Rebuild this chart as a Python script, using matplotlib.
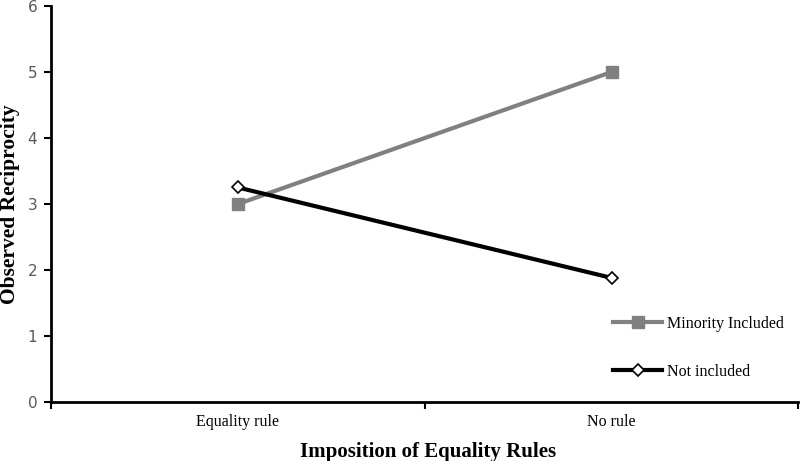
import matplotlib
matplotlib.use("Agg")
import matplotlib.pyplot as plt
import numpy as np

categories = ["Equality rule", "No rule"]
minority_included = [3.0, 5.0]
not_included = [3.25, 1.88]

fig = plt.figure(figsize=(8, 4.61), dpi=100)
ax = fig.add_axes([0.064, 0.128, 0.934, 0.859])

x = np.arange(len(categories)) + 0.5
ax.plot(x, minority_included, color="#808080", lw=3, marker="s", ms=9,
        label="Minority Included")
ax.plot(x, not_included, color="black", lw=3, marker="D", ms=6,
        mfc="white", mec="black", mew=1.2, label="Not included")

ax.set_xlim(0, 2)
ax.set_ylim(0, 6)
ax.set_yticks(range(7))
ax.set_xticks([0, 1, 2])
ax.set_xticklabels([])
ax.set_xticks(x, minor=True)
ax.set_xticklabels(categories, minor=True, fontfamily="Liberation Serif", fontsize=11.5)
ax.tick_params(axis="x", which="minor", length=0, pad=9)
ax.tick_params(axis="x", which="major", length=5, width=1.5, direction="out")
ax.tick_params(axis="y", length=5, width=1.5, labelcolor="#595959", labelsize=11, pad=5)
for lbl in ax.get_yticklabels():
    lbl.set_fontfamily("DejaVu Sans")

for s in ["top", "right"]:
    ax.spines[s].set_visible(False)
for s in ["left", "bottom"]:
    ax.spines[s].set_linewidth(2)

fig.text(0.535, 0.009, "Imposition of Equality Rules", fontfamily="Liberation Serif",
         fontweight="bold", fontsize=15, ha="center", va="baseline")
fig.text(0.013, 1 - 204 / 461, "Observed Reciprocity", fontfamily="Liberation Serif",
         fontweight="bold", fontsize=15.5, ha="center", va="center", rotation=90)

leg = ax.legend(loc="lower right", bbox_to_anchor=(1.0, 0.02), frameon=False,
                prop={"family": "Liberation Serif", "size": 11.5},
                handlelength=3.1, labelspacing=2.0, handletextpad=0.3)

fig.savefig("out.png", dpi=100)
